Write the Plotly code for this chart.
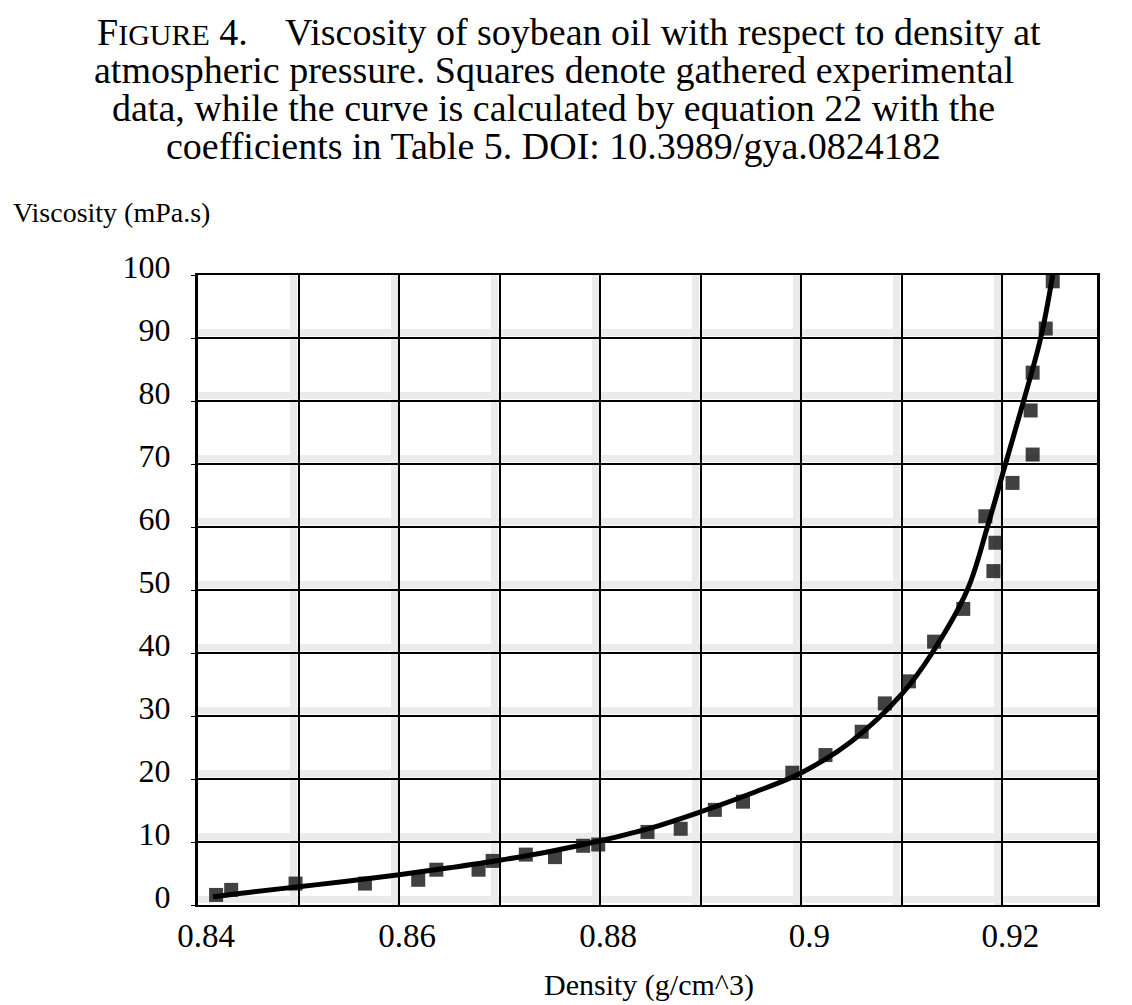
import plotly.graph_objects as go

# experimental points (squares)
density_exp = [0.8418, 0.8433, 0.8497, 0.8566, 0.8619, 0.8637, 0.8679, 0.8693,
               0.8726, 0.8755, 0.8783, 0.8798, 0.8847, 0.8880, 0.8914, 0.8942,
               0.8991, 0.9024, 0.9060, 0.9083, 0.9107, 0.9132, 0.9161, 0.9183,
               0.9191, 0.9193, 0.9210, 0.9230, 0.9228, 0.9230, 0.9243, 0.9250]
visc_exp = [1.6, 2.4, 3.4, 3.4, 4.0, 5.6, 5.6, 7.0,
            8.0, 7.6, 9.4, 9.6, 11.6, 12.1, 15.1, 16.4,
            21.0, 23.8, 27.5, 32.0, 35.5, 41.8, 47.0, 61.7,
            53.0, 57.5, 67.0, 71.5, 78.5, 84.5, 91.5, 99.0]

# calculated curve (equation 22)
density_fit = [0.8415, 0.845, 0.85, 0.855, 0.86, 0.865, 0.87, 0.875, 0.88, 0.885,
               0.89, 0.895, 0.90, 0.905, 0.91, 0.913, 0.9165, 0.9185, 0.9203,
               0.9221, 0.9238, 0.925]
visc_fit = [1.3, 2.0, 2.9, 3.8, 4.8, 5.9, 7.1, 8.5, 10.2, 12.2,
            14.8, 17.7, 21.0, 26.0, 33.5, 40.0, 50.0, 60.0, 70.0,
            80.0, 90.0, 100.0]

x_ticks = [0.84, 0.85, 0.86, 0.87, 0.88, 0.89, 0.90, 0.91, 0.92]
x_labels = ["0.84", "", "0.86", "", "0.88", "", "0.9", "", "0.92"]
y_ticks = [0, 10, 20, 30, 40, 50, 60, 70, 80, 90, 100]

caption = [
    "F<span style='font-size:30px'>IGURE</span> 4.\u00a0\u00a0\u00a0 Viscosity of soybean oil with respect to density at",
    "atmospheric pressure. Squares denote gathered experimental",
    "data, while the curve is calculated by equation 22 with the",
    "coefficients in Table 5. DOI: 10.3989/gya.0824182",
]

serif = "Liberation Serif, Times New Roman, serif"

# screen pixel -> paper coords (plot area on screen: x 195..1095, y 273..903)
def px(xs):
    return (xs - 195) / 900

def py(ys):
    return 1 + (273 - ys) / 630

fig = go.Figure()
fig.add_trace(go.Scatter(
    x=density_exp, y=visc_exp, mode="markers",
    marker=dict(symbol="square", size=14, color="#111111", opacity=0.8,
                line=dict(width=0)),
    name="experimental", showlegend=False))
fig.add_trace(go.Scatter(
    x=density_fit, y=visc_fit, mode="lines", line_shape="spline",
    line=dict(color="black", width=5),
    name="equation 22", showlegend=False))

notes = []
line_mid = [30, 68, 106, 144]
line_x = [566, 551, 551, 551]
for txt, ym, xm in zip(caption, line_mid, line_x):
    notes.append(dict(text=txt, xref="paper", yref="paper",
                      x=px(xm), y=py(ym),
                      xanchor="center", yanchor="middle", showarrow=False,
                      font=dict(family=serif, size=38, color="black")))
notes.append(dict(text="Viscosity (mPa.s)", xref="paper", yref="paper",
                  x=px(8), y=py(211), xanchor="left", yanchor="middle",
                  showarrow=False, font=dict(family=serif, size=28, color="black")))
notes.append(dict(text="Density (g/cm^3)", xref="paper", yref="paper",
                  x=px(647), y=py(983), xanchor="center", yanchor="middle",
                  showarrow=False, font=dict(family=serif, size=30, color="black")))

# the page body has an 8px margin, so the figure is 8px smaller than the window
fig.update_layout(
    width=1124, height=997,
    paper_bgcolor="white", plot_bgcolor="white",
    margin=dict(l=190, r=35, t=267, b=100),
    font=dict(family=serif, color="black"),
    xaxis=dict(
        range=[0.84, 0.9294], tickvals=x_ticks, ticktext=x_labels,
        showgrid=True, gridcolor="black", gridwidth=2,
        minor=dict(tick0=0.8395, dtick=0.01, showgrid=True,
                   gridcolor="#ebebeb", gridwidth=7),
        showline=True, linecolor="black", linewidth=2, mirror=True,
        zeroline=False, ticks="", tickfont=dict(size=33),
        ticklabelshift=8, ticklabelstandoff=0,
    ),
    yaxis=dict(
        range=[0, 100], tickvals=y_ticks,
        showgrid=True, gridcolor="black", gridwidth=2,
        minor=dict(tick0=0.8, dtick=10, showgrid=True,
                   gridcolor="#ebebeb", gridwidth=7),
        showline=True, linecolor="black", linewidth=3, mirror=True,
        zeroline=False, ticks="outside", ticklen=4, tickcolor="black",
        tickfont=dict(size=32), ticklabelstandoff=14, ticklabelshift=-8,
    ),
    annotations=notes,
)

fig.write_html("out.html")
